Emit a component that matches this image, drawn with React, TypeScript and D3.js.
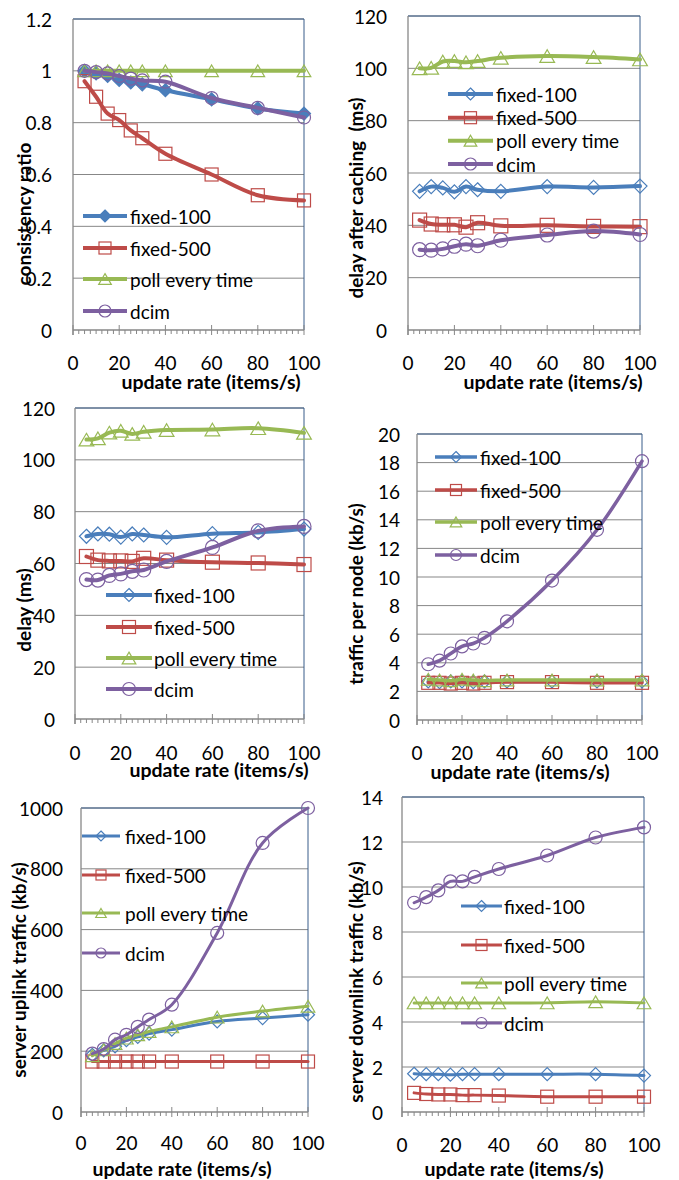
import React from 'react';
import * as d3 from 'd3';

// x values shared by every panel
const rates = [5, 10, 15, 20, 25, 30, 40, 60, 80, 100];
const xTicks = [0, 20, 40, 60, 80, 100];
const seriesNames = ['fixed-100', 'fixed-500', 'poll every time', 'dcim'];
const seriesColors = ['#4A7EBB', '#BE4B48', '#98B954', '#7D60A0'];
const seriesMarkers = ['diamond', 'square', 'triangle', 'circle'];

// consistency ratio
const ratioFixed100 = [1.0, 0.99, 0.98, 0.965, 0.955, 0.948, 0.925, 0.89, 0.855, 0.835];
const ratioFixed500 = [0.96, 0.9, 0.835, 0.81, 0.77, 0.74, 0.68, 0.6, 0.52, 0.5];
const ratioPoll = [1, 1, 1, 1, 1, 1, 1, 1, 1, 1];
const ratioDcim = [1.0, 0.995, 0.99, 0.98, 0.97, 0.963, 0.958, 0.895, 0.857, 0.82];

// delay after caching (ms)
const cachedFixed100 = [53, 54.8, 54.3, 52.8, 54.8, 53.6, 53, 54.8, 54.5, 55];
const cachedFixed500 = [42, 40.5, 40.2, 40.2, 39.3, 41, 39.8, 40, 39.6, 39.5];
const cachedPoll = [100, 100.2, 102.6, 102.8, 102.3, 102.8, 104, 104.7, 104.3, 103.4];
const cachedDcim = [30.7, 30.5, 31, 32, 32.8, 32.2, 34.3, 36.3, 37.8, 36.5];

// delay (ms)
const delayFixed100 = [70.5, 71.4, 71.3, 70.2, 71.4, 71, 70.1, 71.5, 72, 73.3];
const delayFixed500 = [62.7, 61.3, 61, 61, 60.8, 62, 61.3, 60.5, 60.2, 59.6];
const delayPoll = [107.8, 108.3, 110.5, 111.2, 110, 110.8, 111.5, 111.7, 112.2, 110.4];
const delayDcim = [53.8, 53.6, 55.4, 56, 57, 57.5, 60.8, 66.2, 72.6, 74.3];

// traffic per node (kb/s)
const nodeFixed100 = [2.7, 2.65, 2.7, 2.7, 2.65, 2.7, 2.7, 2.7, 2.7, 2.7];
const nodeFixed500 = [2.6, 2.6, 2.55, 2.6, 2.55, 2.6, 2.65, 2.65, 2.6, 2.6];
const nodePoll = [2.85, 2.8, 2.75, 2.85, 2.8, 2.75, 2.8, 2.8, 2.8, 2.8];
const nodeDcim = [3.9, 4.15, 4.65, 5.15, 5.35, 5.75, 6.9, 9.75, 13.3, 18.1];

// server uplink traffic (kb/s)
const upFixed100 = [188, 203, 216, 236, 247, 258, 271, 298, 309, 320];
const upFixed500 = [166, 166, 166, 166, 166, 166, 166, 166, 166, 166];
const upPoll = [185, 205, 225, 243, 254, 265, 280, 312, 332, 348];
const upDcim = [192, 207, 238, 254, 280, 304, 353, 589, 885, 1000];

// server downlink traffic (kb/s)
const downFixed100 = [1.7, 1.68, 1.68, 1.66, 1.68, 1.68, 1.68, 1.68, 1.68, 1.62];
const downFixed500 = [0.85, 0.8, 0.78, 0.78, 0.75, 0.75, 0.73, 0.68, 0.68, 0.68];
const downPoll = [4.85, 4.85, 4.85, 4.85, 4.85, 4.85, 4.85, 4.85, 4.9, 4.85];
const downDcim = [9.3, 9.55, 9.85, 10.25, 10.25, 10.45, 10.8, 11.4, 12.2, 12.65];

const FONT = 'Lato, "Open Sans", sans-serif';
const GRID = '#878787';
const BORDER = '#385D8A';

type Layout = {
  left: number; right: number; top: number; bottom: number;
  yMax: number; yStep: number; yLabelX: number;
  yTitle: string; yTitleX: number; yTitleY: number;
  xLabelY: number; xTitleX: number; xTitleY: number;
  legX0: number; legX1: number; legTextX: number; legY: number[];
  lineW: number; mk: number; legMk: number; filledBlue?: boolean;
};

const Marker = ({ kind, x, y, s, color, filled }: any) => {
  const common = { stroke: color, strokeWidth: 1.2, fill: filled ? color : 'none' };
  if (kind === 'circle') return <circle cx={x} cy={y} r={s} {...common} />;
  if (kind === 'square') return <rect x={x - s} y={y - s} width={2 * s} height={2 * s} {...common} />;
  if (kind === 'diamond') return <path d={`M${x},${y - s}L${x + s},${y}L${x},${y + s}L${x - s},${y}Z`} {...common} />;
  const h = s * 0.9;
  return <path d={`M${x},${y - h}L${x + s * 1.05},${y + h}L${x - s * 1.05},${y + h}Z`} {...common} />;
};

const Panel = ({ L, series }: { L: Layout; series: number[][] }) => {
  const x = d3.scaleLinear().domain([0, 100]).range([L.left, L.right]);
  const y = d3.scaleLinear().domain([0, L.yMax]).range([L.bottom, L.top]);
  const yTicks = d3.range(0, L.yMax + L.yStep / 2, L.yStep);
  const minor = d3.range(0, 100.01, 2.5);
  const line = d3.line<number>().x((_, i) => x(rates[i])).y(d => y(d)).curve(d3.curveCatmullRom.alpha(0.5));
  const fmt = (v: number) => (L.yStep < 1 ? String(+v.toFixed(1)) : String(Math.round(v)));

  return (
    <g>
      {yTicks.slice(1).map(t => (
        <line key={t} x1={L.left} x2={L.right} y1={y(t)} y2={y(t)} stroke={GRID} strokeWidth={1} />
      ))}
      <line x1={L.left} x2={L.right} y1={L.top} y2={L.top} stroke={BORDER} strokeWidth={1} />
      <line x1={L.right} x2={L.right} y1={L.top} y2={L.bottom} stroke={BORDER} strokeWidth={1} />
      <line x1={L.left} x2={L.left} y1={L.top} y2={L.bottom + 5} stroke={GRID} strokeWidth={1.3} />
      <line x1={L.left} x2={L.right} y1={L.bottom} y2={L.bottom} stroke={GRID} strokeWidth={1.3} />
      {minor.map(t => (
        <line key={t} x1={x(t)} x2={x(t)} y1={t % 20 === 0 ? L.bottom - 5 : L.bottom} y2={L.bottom + (t % 20 === 0 ? 5 : 4)} stroke={GRID} strokeWidth={1} />
      ))}
      {yTicks.map(t => (
        <text key={t} x={L.yLabelX} y={y(t)} textAnchor="end" dominantBaseline="central" fontSize={19} fontFamily={FONT} fill="#000">{fmt(t)}</text>
      ))}
      {xTicks.map(t => (
        <text key={t} x={x(t)} y={L.xLabelY - 1} textAnchor="middle" dominantBaseline="central" fontSize={19} fontFamily={FONT} fill="#000">{t}</text>
      ))}
      <text x={L.xTitleX} y={L.xTitleY + 1} textAnchor="middle" dominantBaseline="central" fontSize={19.5} fontWeight="bold" fontFamily={FONT}>update rate (items/s)</text>
      <text transform={`translate(${L.yTitleX},${L.yTitleY}) rotate(-90)`} textAnchor="middle" dominantBaseline="central" fontSize={19} fontWeight="bold" fontFamily={FONT} style={{ whiteSpace: 'pre' }}>{L.yTitle}</text>

      {series.map((vals, si) => (
        <g key={si}>
          <path d={line(vals) || ''} fill="none" stroke={seriesColors[si]} strokeWidth={L.lineW} strokeLinejoin="round" strokeLinecap="round" />
          {vals.map((v, i) => (
            <Marker key={i} kind={seriesMarkers[si]} x={x(rates[i])} y={y(v)} s={L.mk} color={seriesColors[si]} filled={si === 0 && L.filledBlue} />
          ))}
        </g>
      ))}

      {seriesNames.map((name, si) => (
        <g key={name}>
          <line x1={L.legX0} x2={L.legX1} y1={L.legY[si]} y2={L.legY[si]} stroke={seriesColors[si]} strokeWidth={L.lineW} />
          <Marker kind={seriesMarkers[si]} x={(L.legX0 + L.legX1) / 2} y={L.legY[si]} s={L.legMk} color={seriesColors[si]} filled={si === 0 && L.filledBlue} />
          <text x={L.legTextX} y={L.legY[si]} dominantBaseline="central" fontSize={19} fontFamily={FONT} fill="#000">{name}</text>
        </g>
      ))}
    </g>
  );
};

const panels: { L: Layout; series: number[][] }[] = [
  {
    L: { left: 73, right: 304, top: 19, bottom: 330, yMax: 1.2, yStep: 0.2, yLabelX: 52,
      yTitle: 'consistency ratio', yTitleX: 23, yTitleY: 214, xLabelY: 363, xTitleX: 211, xTitleY: 380,
      legX0: 83, legX1: 127, legTextX: 130, legY: [216, 248, 279, 311], lineW: 4, mk: 6.5, legMk: 6, filledBlue: true },
    series: [ratioFixed100, ratioFixed500, ratioPoll, ratioDcim],
  },
  {
    L: { left: 408, right: 640, top: 16, bottom: 330, yMax: 120, yStep: 20, yLabelX: 387,
      yTitle: 'delay after caching  (ms)', yTitleX: 355, yTitleY: 198, xLabelY: 363, xTitleX: 553, xTitleY: 380,
      legX0: 448, legX1: 493, legTextX: 496, legY: [94, 117.7, 140.7, 164], lineW: 4, mk: 7, legMk: 6 },
    series: [cachedFixed100, cachedFixed500, cachedPoll, cachedDcim],
  },
  {
    L: { left: 75, right: 304, top: 408, bottom: 719, yMax: 120, yStep: 20, yLabelX: 55,
      yTitle: 'delay (ms)', yTitleX: 23, yTitleY: 610, xLabelY: 753, xTitleX: 219, xTitleY: 768,
      legX0: 106, legX1: 152, legTextX: 154, legY: [595, 627, 658, 689], lineW: 4, mk: 7, legMk: 6.5 },
    series: [delayFixed100, delayFixed500, delayPoll, delayDcim],
  },
  {
    L: { left: 417, right: 642, top: 434, bottom: 720, yMax: 20, yStep: 2, yLabelX: 400,
      yTitle: 'traffic per node (kb/s)', yTitleX: 355, yTitleY: 594, xLabelY: 753, xTitleX: 520, xTitleY: 770,
      legX0: 435, legX1: 477, legTextX: 480, legY: [457, 490, 522, 555], lineW: 3.5, mk: 6.5, legMk: 5.5 },
    series: [nodeFixed100, nodeFixed500, nodePoll, nodeDcim],
  },
  {
    L: { left: 81, right: 308, top: 808, bottom: 1112, yMax: 1000, yStep: 200, yLabelX: 63,
      yTitle: 'server uplink traffic (kb/s)', yTitleX: 18, yTitleY: 970, xLabelY: 1143, xTitleX: 182, xTitleY: 1167,
      legX0: 82, legX1: 120, legTextX: 125, legY: [836, 875, 913, 953], lineW: 3, mk: 6.5, legMk: 5 },
    series: [upFixed100, upFixed500, upPoll, upDcim],
  },
  {
    L: { left: 402, right: 644, top: 797, bottom: 1112, yMax: 14, yStep: 2, yLabelX: 383,
      yTitle: 'server downlink traffic (kb/s)', yTitleX: 355, yTitleY: 982, xLabelY: 1145, xTitleX: 514, xTitleY: 1167,
      legX0: 461, legX1: 502, legTextX: 504, legY: [906, 945, 983, 1023], lineW: 3, mk: 6.5, legMk: 5.5 },
    series: [downFixed100, downFixed500, downPoll, downDcim],
  },
];

export default function App() {
  return (
    <svg width={679} height={1180} style={{ position: 'absolute', left: 0, top: 0, background: '#fff' }}>
      <rect width={679} height={1180} fill="#fff" />
      {panels.map((p, i) => <Panel key={i} L={p.L} series={p.series} />)}
    </svg>
  );
}
